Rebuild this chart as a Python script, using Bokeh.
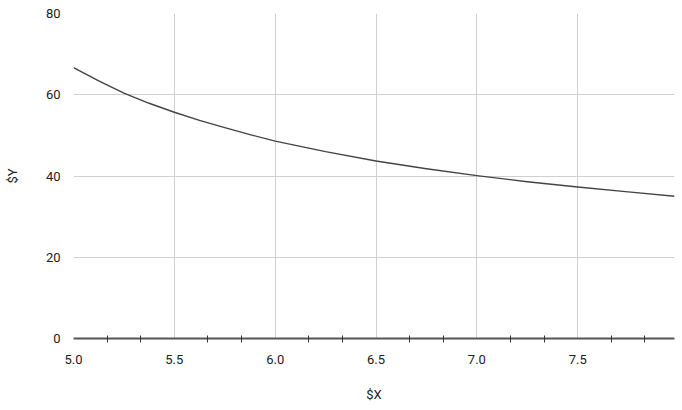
from bokeh.plotting import figure
from bokeh.models import Range1d, FixedTicker, PrintfTickFormatter
from bokeh.embed import file_html
from bokeh.resources import INLINE

# data
x_vals = [5.0, 5.125, 5.25, 5.375, 5.5, 5.625, 5.75, 5.875, 6.0, 6.25, 6.5, 6.75, 7.0, 7.25, 7.5, 7.75, 7.98]
y_vals = [66.7, 63.4, 60.4, 57.9, 55.7, 53.7, 51.9, 50.2, 48.6, 46.0, 43.7, 41.8, 40.1, 38.6, 37.3, 36.1, 35.0]
x_ticks = [5.0, 5.5, 6.0, 6.5, 7.0, 7.5]
x_minor = [5 + k / 6 for k in range(1, 18) if k % 3 != 0]
y_ticks = [0, 20, 40, 60, 80]

p = figure(width=682, height=410, output_backend="svg", toolbar_location=None,
           x_range=Range1d(5.0, 7.98), y_range=Range1d(0, 80),
           min_border_left=73, min_border_right=8, min_border_top=13, min_border_bottom=72)
p.outline_line_color = None
p.background_fill_color = "white"

p.line(x_vals, y_vals, line_color="#444444", line_width=1.4, line_join="round")

font = "Roboto"
p.xaxis.ticker = FixedTicker(ticks=x_ticks, minor_ticks=x_minor)
p.xaxis.formatter = PrintfTickFormatter(format="%.1f")
p.yaxis.ticker = FixedTicker(ticks=y_ticks)
p.xaxis.axis_label = "$X"
p.yaxis.axis_label = "$Y"
for ax in (p.xaxis, p.yaxis):
    ax.major_label_text_font = font
    ax.major_label_text_font_size = "13px"
    ax.major_label_text_color = "#222222"
    ax.axis_label_text_font = font
    ax.axis_label_text_font_size = "13px"
    ax.axis_label_text_font_style = "normal"
    ax.axis_label_text_color = "#222222"

p.xaxis.axis_line_color = "#555555"
p.xaxis.axis_line_width = 2
p.xaxis.major_tick_line_color = None
p.xaxis.minor_tick_line_color = "#333333"
p.xaxis.minor_tick_line_width = 1
p.xaxis.minor_tick_in = 3
p.xaxis.minor_tick_out = 4
p.xaxis.major_label_standoff = 10
p.xaxis.axis_label_standoff = 20

p.yaxis.axis_line_color = None
p.yaxis.major_tick_line_color = None
p.yaxis.minor_tick_line_color = None
p.yaxis.major_label_standoff = 7
p.yaxis.axis_label_standoff = 23

p.xgrid.ticker = FixedTicker(ticks=x_ticks)
p.ygrid.ticker = FixedTicker(ticks=y_ticks)
p.grid.grid_line_color = "#d0d0d0"
p.grid.grid_line_width = 1

open("out.html", "w").write(file_html(p, INLINE))
